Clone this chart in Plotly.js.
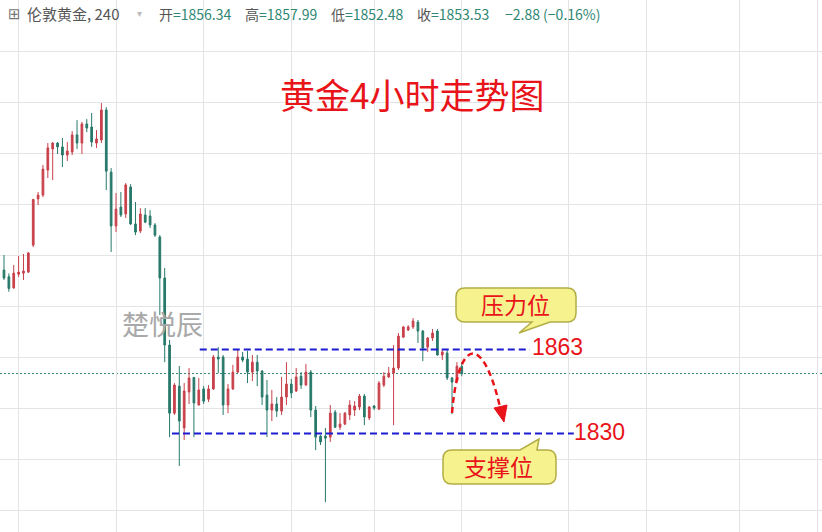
<!DOCTYPE html>
<html><head><meta charset="utf-8">
<script src="https://cdn.plot.ly/plotly-3.0.1.min.js"></script>
<style>html,body{margin:0;padding:0;background:#fff}#chart{width:822px;height:532px}</style>
</head><body><div id="chart"></div>
<script>
// ---- data (伦敦黄金 4H candles) ----
const openP = [1894.1,1891.5,1887.1,1892.5,1892.9,1893.3,1903.9,1922.0,1923.5,1933.3,
1941.6,1943.9,1942.4,1939.2,1940.4,1947.1,1943.9,1951.4,1950.2,1943.9,
1945.1,1956.9,1932.5,1911.4,1918.8,1916.1,1926.7,1912.2,1909.4,1915.7,
1915.3,1911.8,1907.1,1891.0,1864.7,1838.0,1848.6,1832.2,1846.3,1852.0,
1841.2,1847.5,1843.5,1847.5,1860.0,1860.0,1841.2,1847.5,1854.1,1860.0,
1859.2,1854.1,1858.0,1854.5,1845.1,1839.2,1841.6,1838.8,1844.3,1849.4,
1846.7,1852.5,1849.0,1854.1,1839.2,1829.0,1829.0,1828.6,1838.4,1832.5,
1833.7,1837.3,1839.2,1840.4,1844.7,1836.1,1840.8,1839.6,1849.0,1852.2,
1853.7,1855.7,1867.8,1870.6,1871.8,1873.7,1870.2,1863.9,1867.5,1870.2,
1860.8,1861.6,1851.8,1850.6,1856.34];
const highP = [1900.0,1892.8,1896.1,1899.6,1900.4,1901.2,1922.0,1924.7,1935.3,1943.9,
1944.3,1944.3,1945.9,1944.3,1948.6,1952.9,1952.2,1953.3,1955.7,1949.0,
1959.6,1958.0,1934.1,1924.3,1924.7,1928.2,1927.8,1920.8,1918.4,1918.4,
1917.6,1912.5,1907.8,1894.9,1866.7,1849.8,1856.5,1849.8,1855.7,1852.2,
1851.8,1848.6,1849.0,1860.8,1863.9,1860.8,1849.4,1856.9,1863.1,1862.0,
1862.4,1860.8,1860.8,1854.9,1851.0,1847.1,1844.3,1852.2,1858.0,1851.4,
1855.7,1854.1,1857.3,1854.9,1840.8,1829.4,1832.2,1841.2,1839.2,1838.0,
1838.4,1843.1,1842.7,1845.5,1845.5,1840.8,1841.2,1850.6,1854.1,1856.1,
1864.7,1869.4,1872.2,1872.5,1875.3,1874.5,1870.6,1867.8,1871.0,1871.0,
1863.1,1863.1,1852.2,1858.0,1857.99];
const lowP = [1890.2,1885.6,1886.8,1891.4,1890.2,1893.0,1903.1,1919.6,1922.7,1930.2,
1929.4,1939.6,1934.5,1936.9,1939.2,1941.6,1939.6,1948.2,1942.4,1942.0,
1943.9,1925.5,1901.2,1909.0,1914.9,1914.5,1911.8,1907.8,1908.6,1912.5,
1910.6,1907.1,1876.5,1858.0,1828.6,1837.3,1817.3,1827.5,1841.6,1828.6,
1841.0,1841.6,1842.4,1847.1,1853.7,1837.3,1838.0,1847.1,1853.7,1858.0,
1849.8,1850.6,1848.6,1841.2,1828.6,1834.9,1836.5,1837.3,1841.2,1843.9,
1846.3,1847.5,1848.8,1836.5,1823.5,1825.5,1803.1,1826.7,1832.2,1831.4,
1833.3,1835.3,1836.9,1839.2,1833.3,1835.3,1839.2,1839.2,1848.2,1851.8,
1833.3,1854.9,1867.5,1870.2,1871.0,1865.5,1858.4,1862.0,1866.3,1860.6,
1858.8,1851.0,1837.6,1850.2,1852.48];
const closeP = [1891.0,1886.9,1892.9,1893.3,1893.7,1900.8,1921.8,1923.5,1933.7,1942.0,
1943.9,1942.4,1939.2,1940.8,1947.1,1943.9,1951.4,1949.8,1944.3,1945.5,
1956.9,1932.9,1911.4,1918.0,1915.7,1927.5,1912.2,1909.0,1916.1,1912.9,
1911.8,1907.8,1891.0,1864.7,1838.0,1849.0,1834.9,1846.7,1851.8,1842.0,
1847.1,1842.7,1847.5,1860.0,1859.2,1841.2,1847.5,1854.1,1860.0,1858.8,
1854.1,1858.0,1854.5,1844.3,1839.2,1841.6,1838.8,1844.3,1849.4,1845.9,
1852.2,1849.0,1854.1,1839.2,1828.6,1826.7,1828.2,1838.0,1832.5,1833.7,
1838.0,1841.2,1840.8,1844.7,1836.5,1840.4,1840.0,1849.8,1852.5,1853.7,
1855.7,1868.2,1871.8,1871.8,1874.1,1870.2,1863.5,1867.5,1869.4,1860.8,
1862.0,1851.8,1850.2,1856.41,1853.53];
const levels = [1863, 1830];
const levelLabels = ['1863', '1830'];
const bubbleLabels = ['压力位', '支撑位'];
const titleText = '黄金4小时走势图';
const symbolText = '伦敦黄金, 240';
const ohlcNames = ['开', '高', '低', '收'];

// ---- build ----
const W = 822, H = 532;
const idx = openP.map((_, i) => i);
const n = closeP.length;
const last = [openP[n-1], highP[n-1], lowP[n-1], closeP[n-1]];
const chg = closeP[n-1] - closeP[n-2];
const pct = chg / closeP[n-2] * 100;
const fmt = v => (v < 0 ? '\u2212' : '') + Math.abs(v).toFixed(2);

const UP = '#c8414b', DN = '#27796a', TEAL = '#2f8774', RED = '#e8141a';

const trace = {
  type: 'candlestick', x: idx, open: openP, high: highP, low: lowP, close: closeP,
  increasing: {line: {color: UP, width: 1}, fillcolor: UP},
  decreasing: {line: {color: DN, width: 1}, fillcolor: DN},
  whiskerwidth: 0, hoverinfo: 'skip', showlegend: false
};

const px = x => x / W, py = y => 1 - y / H;
const P = (x, y) => px(x).toFixed(5) + ',' + py(y).toFixed(5);

function bubble(x0, y0, x1, y1, r, tail, onTop) {
  // tail: [baseA, baseB, tipX, tipY]
  const [a, b, tx, ty] = tail;
  let d = 'M' + P(x0 + r, y0);
  if (onTop) d += ' L' + P(a, y0) + ' L' + P(tx, ty) + ' L' + P(b, y0);
  d += ' L' + P(x1 - r, y0) + ' Q' + P(x1, y0) + ' ' + P(x1, y0 + r);
  d += ' L' + P(x1, y1 - r) + ' Q' + P(x1, y1) + ' ' + P(x1 - r, y1);
  if (!onTop) d += ' L' + P(b, y1) + ' L' + P(tx, ty) + ' L' + P(a, y1);
  d += ' L' + P(x0 + r, y1) + ' Q' + P(x0, y1) + ' ' + P(x0, y1 - r);
  d += ' L' + P(x0, y0 + r) + ' Q' + P(x0, y0) + ' ' + P(x0 + r, y0) + ' Z';
  return {type: 'path', xref: 'paper', yref: 'paper', path: d,
    fillcolor: '#f6f38e', line: {color: '#b2ad45', width: 1.5}, layer: 'above'};
}

const shapes = [
  {type: 'line', xref: 'paper', x0: 0, x1: 1, yref: 'y', y0: closeP[n-1], y1: closeP[n-1],
   line: {color: TEAL, width: 1, dash: '2px,2px'}, layer: 'below'},
  {type: 'line', xref: 'x', x0: 40.2, x1: 108, yref: 'y', y0: levels[0], y1: levels[0],
   line: {color: '#1c1cd2', width: 2, dash: '7px,4px'}},
  {type: 'line', xref: 'x', x0: 34.5, x1: 117, yref: 'y', y0: levels[1], y1: levels[1],
   line: {color: '#1c1cd2', width: 2, dash: '7px,4px'}},
  bubble(456, 288, 576, 322, 9, [532, 550, 519, 333], false),
  bubble(443, 450, 556, 484, 9, [520, 537, 539, 439], true),
  {type: 'path', xref: 'paper', yref: 'paper',
   path: 'M' + P(452, 413) + ' C' + P(458, 340) + ' ' + P(482, 330) + ' ' + P(500, 407),
   line: {color: RED, width: 2.5, dash: '6px,4px'}},
  {type: 'path', xref: 'paper', yref: 'paper',
   path: 'M' + P(504, 422) + ' L' + P(494, 408) + ' L' + P(507, 405) + ' Z',
   fillcolor: RED, line: {color: RED, width: 1}}
];

const CJK = '"Noto Sans CJK SC", "Noto Sans", sans-serif';
const ann = (x, y, text, size, color, xa, fam) => ({
  xref: 'paper', yref: 'paper', x: px(x), y: py(y), text, showarrow: false,
  xanchor: xa || 'left', yanchor: 'middle',
  font: {size, color, family: fam || CJK}
});

const annotations = [
  ann(6, 14, '\u229E', 15, '#777', 'left', '"DejaVu Sans", sans-serif'),
  ann(25, 14, symbolText, 15, '#555'),
  ann(135, 14, '\u25BE', 10, '#bbb', 'left', '"DejaVu Sans", sans-serif'),
  ann(157, 14, ohlcNames[0] + '<span style="color:' + TEAL + '">=' + last[0].toFixed(2) + '</span>', 14, '#555'),
  ann(243, 14, ohlcNames[1] + '<span style="color:' + TEAL + '">=' + last[1].toFixed(2) + '</span>', 14, '#555'),
  ann(329, 14, ohlcNames[2] + '<span style="color:' + TEAL + '">=' + last[2].toFixed(2) + '</span>', 14, '#555'),
  ann(415, 14, ohlcNames[3] + '<span style="color:' + TEAL + '">=' + last[3].toFixed(2) + '</span>', 14, '#555'),
  ann(503, 14, fmt(chg) + ' (' + fmt(pct) + '%)', 14, TEAL),
  ann(412, 94, titleText, 35, RED, 'center'),
  ann(162, 323, '楚悦辰', 27, '#a9a9a9', 'center'),
  ann(515, 304, bubbleLabels[0], 23, RED, 'center'),
  ann(498, 466, bubbleLabels[1], 23, RED, 'center'),
  ann(530, 347, levelLabels[0], 23, RED, 'left', '"Liberation Sans", Arial, sans-serif'),
  ann(572, 432, levelLabels[1], 23, RED, 'left', '"Liberation Sans", Arial, sans-serif')
];

const gridX = [3, 23, 41, 59, 76, 94, 116, 132, 151, 167];

const layout = {
  width: W, height: H, margin: {l: 0, r: 0, t: 0, b: 0},
  paper_bgcolor: '#fff', plot_bgcolor: '#fff', showlegend: false,
  boxgap: 0.5,
  xaxis: {type: 'linear', range: [-0.82, 167.97], tickvals: gridX, showticklabels: false,
    showgrid: true, gridcolor: '#e4e4e4', gridwidth: 1, zeroline: false, showline: false,
    ticks: '', rangeslider: {visible: false}, fixedrange: true},
  yaxis: {range: [1791.4, 2000], tick0: 1800, dtick: 20, showticklabels: false,
    showgrid: true, gridcolor: '#e4e4e4', gridwidth: 1, zeroline: false, showline: false,
    ticks: '', fixedrange: true},
  shapes, annotations
};

Plotly.newPlot('chart', [trace], layout, {displayModeBar: false, staticPlot: true});
</script>
</body></html>
